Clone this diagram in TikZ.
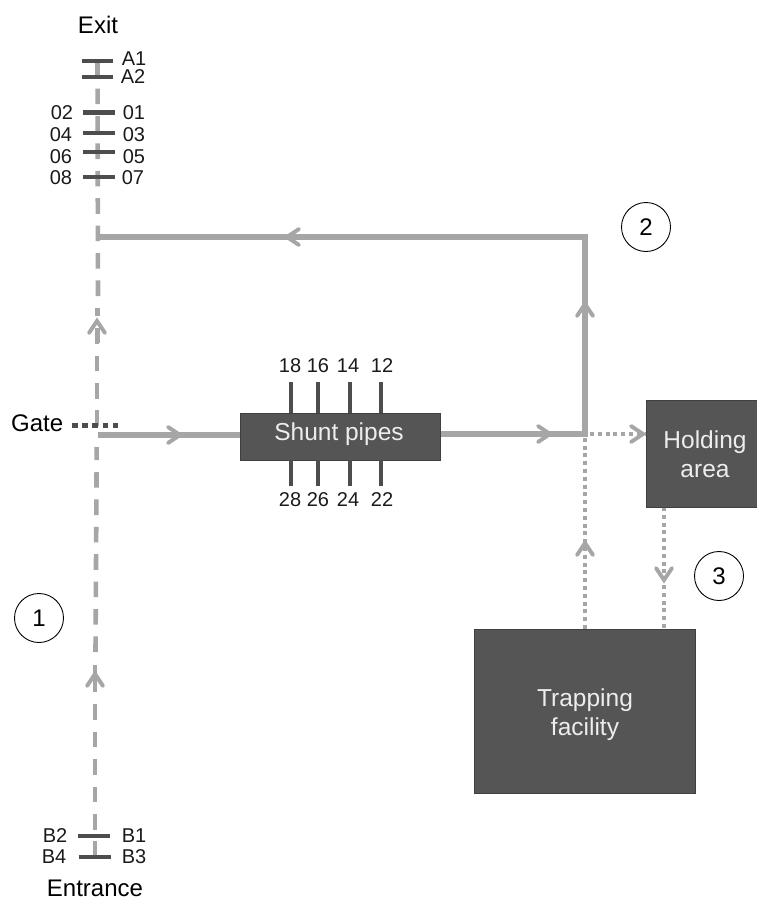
\documentclass[tikz,border=0pt]{standalone}
\usepackage{fontspec}
\setmainfont{Liberation Sans}
\definecolor{flow}{HTML}{A6A6A6}
\definecolor{bar}{HTML}{4D4D4D}
\definecolor{box}{HTML}{555555}
\definecolor{ink}{HTML}{1A1A1A}
\tikzset{
  solidflow/.style={draw=flow,line width=5.4pt,line join=miter},
  dashflow/.style={draw=flow,line width=4.6pt,dash pattern=on 15.6pt off 11.8pt},
  dotflow/.style={draw=flow,line width=4.6pt,dash pattern=on 4pt off 3.8pt},
  headstyle/.style={draw=flow,line width=3.9pt,line cap=round,line join=miter},
  bardraw/.style={draw=bar,line width=4.4pt},
  pipe/.style={draw=bar,line width=4.2pt},
  darkbox/.style={draw=black!75,line width=1pt,fill=box,inner sep=0pt},
  boxtext/.style={text=white!93!black,align=center,font=\fontsize{24.5}{29.5}\selectfont,inner sep=0pt},
  lab/.style={text=ink,font=\fontsize{20}{20}\selectfont,inner sep=0pt},
  title/.style={text=black,font=\fontsize{24}{24}\selectfont,inner sep=0pt},
  stepcircle/.style={circle,draw=black,line width=.9pt,minimum size=49pt,inner sep=0pt,text=black,font=\fontsize{24}{24}\selectfont}
}
\newcommand{\headUp}[2]{\draw[headstyle] (#1-8,#2+13) -- (#1,#2+1) -- (#1+8,#2+13);}
\newcommand{\headDown}[2]{\draw[headstyle] (#1-8,#2-13) -- (#1,#2-1) -- (#1+8,#2-13);}
\newcommand{\headRight}[2]{\draw[headstyle] (#1-13,#2-8) -- (#1-1,#2) -- (#1-13,#2+8);}
\newcommand{\headLeft}[2]{\draw[headstyle] (#1+13,#2-8) -- (#1+1,#2) -- (#1+13,#2+8);}
\begin{document}
\begin{tikzpicture}[x=1pt,y=-1pt]
\useasboundingbox (0,0) rectangle (756,900);
% coordinates
\coordinate (corner) at (98,237);
\coordinate (cornerR) at (585,237);
\coordinate (junction) at (585,434);
\coordinate (gateJ) at (98,435);
\coordinate (trapA) at (585,629);
\coordinate (trapB) at (664,629);
% trunk: dashed run in pieces
\draw[dashflow] (95,857) -- (95,697);
\draw[draw=flow,line width=4.6pt] (95,692) -- (95,665);
\draw[dashflow] (95.5,652) -- (96.7,447);
\draw[dashflow] (97,426) -- (97,328);
\draw[draw=flow,line width=4.6pt] (97.3,343) -- (97.3,328);
\draw[dashflow] (97.3,316) -- (97.3,308);
\draw[dashflow] (98,296) -- (97.5,61);
% dotted flows
\draw[dotflow] (trapA) -- (junction);
\draw[dotflow] (664,507) -- (trapB);
\draw[dotflow] ([xshift=5pt]junction) -- (646,434);
% boxes
\node[darkbox,minimum width=200pt,minimum height=47pt] (shunt) at (340,436.5) {};
\node[darkbox,minimum width=111pt,minimum height=107pt] (hold) at (702,453.5) {};
\node[darkbox,minimum width=221pt,minimum height=164pt] (trap) at (585,711) {};
\node[boxtext] (shuntT) at (339,434.5) {Shunt pipes};
\node[boxtext] (holdT) at (705,454) {Holding\\area};
\node[boxtext] (trapT) at (585,714.5) {Trapping\\facility};
% solid flows
\draw[solidflow] (gateJ) -- (shunt.west |- gateJ);
\draw[solidflow] (shunt.east |- junction) -- (junction) -- (cornerR) -- (corner);
% arrowheads
\headUp{95}{673}
\headUp{97}{320}
\headRight{181}{435}
\headRight{551}{434}
\headLeft{286}{237}
\headUp{585}{303}
\headRight{644}{434}
\headUp{585}{542}
\headDown{664}{581}
% gate
\node[title,anchor=base west] (gate) at (11,431) {Gate};
\draw[draw=bar,line width=5pt,dash pattern=on 5.5pt off 4.7pt] (72,425) coordinate (gs) -- (119,425) coordinate (ge);
% bars
\foreach \n/\xa/\xb/\y in {a1/82/113/61,a2/82/113/77,o1/83/115/112.5,o3/83/115/133,o5/83/115/152,o7/83/115/177,b1/78/110/836,b3/79/111/857}{
  \draw[bardraw] (\xa,\y) -- (\xb,\y);
}
% pipes
\foreach \x in {291,318,350,381}{
  \draw[pipe] (\x,382) -- (\x,412.5);
  \draw[pipe] (\x,460) -- (\x,486);
}
\foreach \lx/\t/\b in {290/18/28,318/16/26,348/14/24,382/12/22}{
  \node[lab] at (\lx,365.5) {\t};
  \node[lab] at (\lx,499.5) {\b};
}
% labels
\node[title] (exit) at (98,25) {Exit};
\node[title] (entrance) at (95,888.5) {Entrance};
\node[lab] at (134,58.5) {A1};
\node[lab] at (133,77) {A2};
\node[lab] at (62,112.5) {02};\node[lab] at (134,112.5) {01};
\node[lab] at (61,134.5) {04};\node[lab] at (134,134.5) {03};
\node[lab] at (61,156.5) {06};\node[lab] at (134,156.5) {05};
\node[lab] at (61,177.5) {08};\node[lab] at (133,177.5) {07};
\node[lab] at (55,835.5) {B2};\node[lab] at (134,835.5) {B1};
\node[lab] at (54,856.5) {B4};\node[lab] at (134,856.5) {B3};
% circles
\node[stepcircle] (c1) at (39,618) {1};
\node[stepcircle] (c2) at (646,227) {2};
\node[stepcircle] (c3) at (719,576) {3};
\end{tikzpicture}
\end{document}
